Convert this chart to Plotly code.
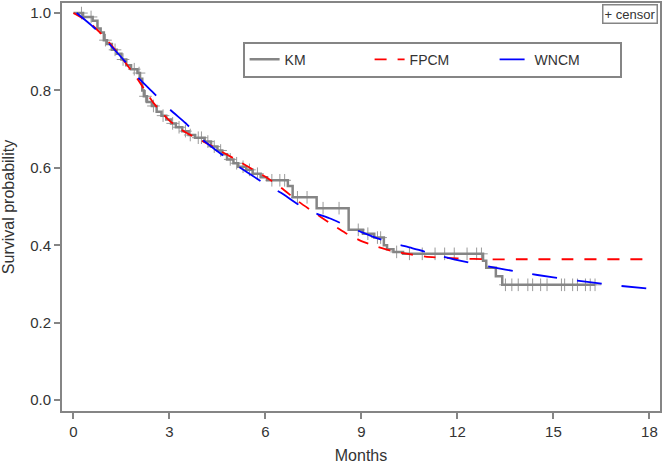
import plotly.graph_objects as go

# Kaplan-Meier step estimate (time in months, survival after the step)
km_time = [0.0, 0.3, 0.6, 0.75, 0.85, 0.95, 1.05, 1.2, 1.35, 1.5, 1.65, 1.8, 2.0, 2.08,
           2.15, 2.2, 2.3, 2.45, 2.6, 2.75, 2.9, 3.05, 3.2, 3.4, 3.6, 3.8, 4.1, 4.3, 4.5,
           4.65, 4.8, 5.0, 5.15, 5.4, 5.6, 5.85, 6.05, 6.7, 6.85, 7.6, 8.6, 9.05, 9.4,
           9.7, 9.8, 10.0, 10.3, 12.8, 12.9, 13.2, 13.4, 16.3]
km_surv = [1.000, 0.990, 0.980, 0.960, 0.950, 0.930, 0.920, 0.905, 0.895, 0.880, 0.865,
           0.855, 0.845, 0.830, 0.800, 0.785, 0.770, 0.760, 0.745, 0.735, 0.725, 0.715,
           0.705, 0.695, 0.685, 0.678, 0.668, 0.655, 0.645, 0.635, 0.622, 0.612, 0.603,
           0.595, 0.585, 0.576, 0.568, 0.553, 0.524, 0.496, 0.440, 0.430, 0.420, 0.400,
           0.390, 0.383, 0.378, 0.360, 0.342, 0.320, 0.298, 0.298]

# censored observation times
censor_time = [0.25, 0.55, 1.0, 1.3, 1.55, 1.9, 2.05, 2.25, 2.5, 2.8, 3.1, 3.3, 3.5, 3.65,
               3.9, 4.0, 4.2, 4.4, 4.6, 4.9, 5.1, 5.3, 5.5, 5.75, 6.2, 6.45, 6.6, 7.0, 7.3,
               7.8, 8.3, 8.9, 9.2, 9.5, 9.6, 10.1, 10.5, 10.9, 11.3, 11.6, 11.9, 12.3, 12.6,
               12.75, 13.5, 13.7, 13.9, 14.2, 14.35, 14.6, 14.8, 15.25, 15.35, 15.6, 15.75,
               16.0, 16.15, 16.3]

# FPCM fitted curve
fpcm_time = [0.0, 0.5, 1.0, 1.5, 2.0, 2.5, 3.0, 3.5, 4.0, 4.5, 5.0, 5.5, 6.0, 6.5, 7.0,
             7.5, 8.0, 8.5, 9.0, 9.5, 10.0, 10.5, 11.0, 12.0, 13.0, 14.0, 18.0]
fpcm_surv = [1.0, 0.975, 0.935, 0.885, 0.83, 0.768, 0.722, 0.692, 0.671, 0.648, 0.625,
             0.601, 0.577, 0.548, 0.515, 0.486, 0.458, 0.432, 0.411, 0.396, 0.384, 0.377,
             0.371, 0.366, 0.364, 0.364, 0.364]

# WNCM fitted curve
wncm_time = [0.1, 0.7, 1.1, 1.6, 2.0, 2.5, 3.0, 3.5, 4.0, 4.5, 5.0, 5.5, 6.0, 6.5, 7.0,
             7.5, 8.0, 8.5, 9.0, 9.5, 10.0, 10.5, 11.0, 11.5, 12.0, 13.0, 14.0, 15.0, 16.0,
             17.0, 18.0]
wncm_surv = [1.0, 0.958, 0.922, 0.876, 0.835, 0.794, 0.752, 0.716, 0.675, 0.643, 0.612,
             0.585, 0.558, 0.535, 0.507, 0.485, 0.470, 0.452, 0.434, 0.418, 0.405, 0.395,
             0.383, 0.372, 0.362, 0.345, 0.330, 0.317, 0.306, 0.296, 0.288]

x_ticks = [0, 3, 6, 9, 12, 15, 18]
y_ticks = [0.0, 0.2, 0.4, 0.6, 0.8, 1.0]


def km_at(t):
    s = km_surv[0]
    for tt, ss in zip(km_time, km_surv):
        if tt <= t:
            s = ss
    return s


censor_surv = [km_at(t) for t in censor_time]

GRAY = "#858585"
FONT = "Liberation Sans, Arial, sans-serif"
TXT = "#333333"

fig = go.Figure()
fig.add_trace(go.Scatter(x=censor_time, y=censor_surv, mode="markers", showlegend=False,
                         marker=dict(symbol="cross-thin", size=9,
                                     line=dict(color="#9a9a9a", width=1))))
fig.add_trace(go.Scatter(x=km_time, y=km_surv, mode="lines", name="KM",
                         line=dict(color=GRAY, width=2.5, shape="hv")))
fig.add_trace(go.Scatter(x=fpcm_time, y=fpcm_surv, mode="lines", name="FPCM",
                         line=dict(color="#ff0000", width=1.8, dash="12px,11px",
                                   shape="spline", smoothing=0.6)))
fig.add_trace(go.Scatter(x=wncm_time, y=wncm_surv, mode="lines", name="WNCM",
                         line=dict(color="#0000ff", width=1.8, dash="25px,20px",
                                   shape="spline", smoothing=0.6)))

axis_common = dict(showline=True, linecolor=GRAY, linewidth=2, mirror=True,
                   ticks="outside", ticklen=6, tickwidth=1.5, tickcolor=GRAY,
                   showgrid=False, zeroline=False,
                   tickfont=dict(family=FONT, size=15, color=TXT))

fig.update_xaxes(range=[-0.358, 18.33], tickvals=x_ticks, automargin=False,
                 title=dict(text="Months", font=dict(family=FONT, size=16, color=TXT),
                            standoff=12),
                 **axis_common)
fig.update_yaxes(range=[-0.028, 1.026], tickvals=y_ticks, tickformat=".1f",
                 title=dict(text="Survival probability",
                            font=dict(family=FONT, size=16, color=TXT), standoff=12),
                 **axis_common)

fig.update_layout(
    width=665, height=464,
    margin=dict(l=62, r=3, t=3, b=53),
    plot_bgcolor="white", paper_bgcolor="white",
    font=dict(family=FONT, size=14, color=TXT),
    legend=dict(orientation="h", x=0.302, y=0.905, xanchor="left", yanchor="top",
                bordercolor=GRAY, borderwidth=2, bgcolor="white",
                entrywidth=80, entrywidthmode="pixels",
                font=dict(family=FONT, size=14, color=TXT)),
    annotations=[dict(text="+ censor", xref="paper", yref="paper", x=1, y=1,
                      xanchor="right", yanchor="top", xshift=-2, yshift=-1,
                      showarrow=False, bordercolor=GRAY, borderwidth=1.5, borderpad=1,
                      font=dict(family=FONT, size=13, color=TXT))],
)

fig.write_html("out.html", config={"displayModeBar": False},
               post_script="document.body.style.margin='0';")
